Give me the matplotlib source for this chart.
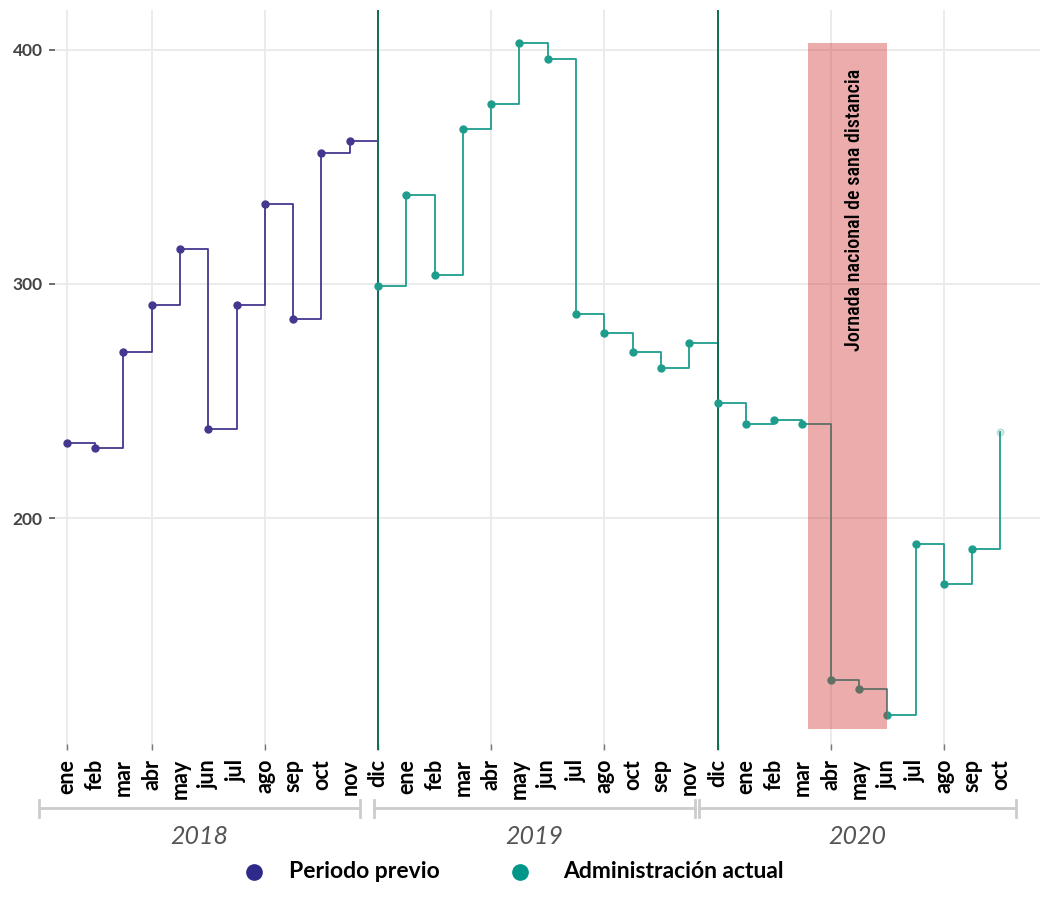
import matplotlib
matplotlib.use("Agg")
import matplotlib.pyplot as plt
import matplotlib.transforms as mtransforms
from matplotlib import font_manager
import numpy as np

# ---------------- data ----------------
month_labels = ["ene", "feb", "mar", "abr", "may", "jun", "jul", "ago", "sep", "oct", "nov", "dic",
                "ene", "feb", "mar", "abr", "may", "jun", "jul", "ago", "oct", "sep", "nov", "dic",
                "ene", "feb", "mar", "abr", "may", "jun", "jul", "ago", "sep", "oct"]
years = ["2018", "2019", "2020"]

prev_values = [232, 230, 271, 291, 315, 238, 291, 334, 285, 356, 361]          # ene-nov 2018
curr_values = [299, 338, 304, 366, 377, 403, 396, 287, 279, 271, 264, 275,     # dic 2018 - nov 2019
               249, 240, 242, 240, 131, 127, 116, 189, 172, 187, 237]          # dic 2019 - oct 2020
curr_start = 11
event_label = "Jornada nacional de sana distancia"
event_span = (26.2, 29.0)
legend_labels = ["Periodo previo", "Administración actual"]

# ---------------- style ----------------
PURPLE = "#43388f"
PURPLE_LEG = "#2e2a8c"
TEAL = "#1f9d8c"
TEAL_LEG = "#00968a"
VLINE = "#0e6b52"
GRID = "#ebebeb"
W, H = 1042, 910
DPI = 100

plt.rcParams['font.family'] = ['Lato', 'DejaVu Sans']

installed = {f.name for f in font_manager.fontManager.ttflist}
cond_family = [f for f in ['Roboto Condensed', 'Liberation Sans Narrow', 'Roboto'] if f in installed] + ['DejaVu Sans']

fig = plt.figure(figsize=(W / DPI, H / DPI), dpi=DPI)
fig.patch.set_facecolor("white")

ax_l, ax_r, ax_t, ax_b = 55, 1040, 10, 750
ax = fig.add_axes([ax_l / W, 1 - ax_b / H, (ax_r - ax_l) / W, (ax_b - ax_t) / H])
ax.set_facecolor("white")

ax.set_xlim(-0.42, 34.4)
ax.set_ylim(101, 417)

# grid
for gx in [0, 3, 7, 11, 15, 19, 23, 27, 31]:
    ax.axvline(gx, color=GRID, lw=1.4, zorder=0)
for gy in [200, 300, 400]:
    ax.axhline(gy, color=GRID, lw=1.4, zorder=0)
for s in ax.spines.values():
    s.set_visible(False)

# previous period
xp = np.arange(len(prev_values))
ax.step(list(xp) + [curr_start], prev_values + [prev_values[-1]], where="post",
        color=PURPLE, lw=1.3, zorder=2)
ax.plot(xp, prev_values, "o", color=PURPLE, ms=5, zorder=3)

# current administration
xc = np.arange(curr_start, curr_start + len(curr_values))
ax.step(xc, curr_values, where="post", color=TEAL, lw=1.3, zorder=2)
ax.plot(xc[:-1], curr_values[:-1], "o", color=TEAL, ms=5, zorder=3)
ax.plot(xc[-1:], curr_values[-1:], "o", color=TEAL, ms=5, alpha=0.2, zorder=3)

# vertical separators
for vx in [11, 23]:
    ax.axvline(vx, color=VLINE, lw=1.4, zorder=2.5)

# event rectangle
ax.fill_between(event_span, 110, max(curr_values), color=(205/255, 38/255, 38/255),
                alpha=0.38, lw=0, zorder=4)
ax.text(sum(event_span) / 2 + 0.25, 392, event_label, rotation=90, ha="center", va="top",
        fontsize=14.5, color="black", fontweight="medium",
        family=cond_family, zorder=5)

# axis ticks
ax.set_yticks([200, 300, 400])
ax.set_yticklabels(["200", "300", "400"], fontsize=12.5, fontweight="bold", color="#444444")
ax.tick_params(axis="y", length=4, width=1.2, color="#555555", pad=5)
ax.set_xticks([0, 3, 7, 11, 15, 19, 23, 27, 31])
ax.set_xticklabels([])
ax.tick_params(axis="x", length=4, width=1, color="#777777", direction="in")

trans = mtransforms.blended_transform_factory(ax.transData, ax.transAxes)
for i, lab in enumerate(month_labels):
    ax.text(i, -0.012, lab, rotation=90, ha="center", va="top", fontsize=15.5,
            fontweight="bold", color="black", transform=trans, clip_on=False)

# overlay in pixel coordinates for brackets / years / legend
ov = fig.add_axes([0, 0, 1, 1], facecolor="none")
ov.set_xlim(0, W)
ov.set_ylim(H, 0)
ov.axis("off")

brackets = [(39, 360), (374, 695), (699, 1016)]
for (x0, x1), yr in zip(brackets, years):
    ov.plot([x0, x1], [808, 808], color="#cccccc", lw=2)
    ov.plot([x0, x0], [800, 817], color="#cccccc", lw=2)
    ov.plot([x1, x1], [800, 817], color="#cccccc", lw=2)
    ov.text((x0 + x1) / 2, 836, yr, ha="center", va="center", fontsize=18,
            style="italic", color="#555555")

ov.plot([254], [872], "o", color=PURPLE_LEG, ms=11)
ov.text(289, 872, legend_labels[0], ha="left", va="center", fontsize=16.5,
        fontweight="bold", color="black")
ov.plot([520], [872], "o", color=TEAL_LEG, ms=11)
ov.text(563, 872, legend_labels[1], ha="left", va="center", fontsize=16.5,
        fontweight="bold", color="black")

fig.savefig("out.png", dpi=DPI, facecolor="white")
